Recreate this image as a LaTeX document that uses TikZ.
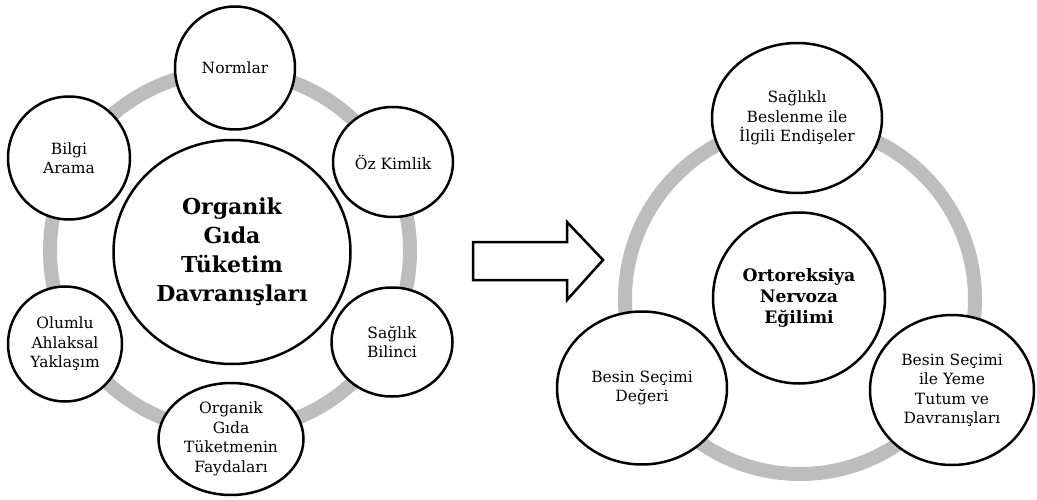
\documentclass[tikz,border=0pt]{standalone}
\usepackage{fontspec}
\setmainfont{DejaVu Serif}
\usetikzlibrary{shapes.geometric}
\definecolor{ringgray}{HTML}{BDBDBD}
\begin{document}
\begin{tikzpicture}[x=1pt,y=-1pt,
  ring/.style={draw=ringgray, line width=14pt},
  bub/.style={ellipse, draw=black, line width=2.5pt, fill=white, inner sep=0pt, align=center, text=black},
  sm/.style={font=\fontsize{15.5}{19.5}\selectfont},
  bigl/.style={font=\bfseries\fontsize{22}{29}\selectfont},
  bigr/.style={font=\bfseries\fontsize{17.2}{21}\selectfont},
  blockarrow/.style={draw=black, line width=2.5pt, fill=white, line join=miter}]
\useasboundingbox (0,0) rectangle (1037,500);
% rings
\draw[ring] (230,251) circle[radius=180pt];
\draw[ring] (800,299) circle[radius=175pt];
% left group
\node[bub, bigl, minimum width=237pt, minimum height=224pt] (ogtd) at (232,252) {Organik\\Gıda\\Tüketim\\Davranışları};
\node[bub, sm, minimum width=120pt, minimum height=123pt] (norm) at (235,68) {Normlar};
\node[bub, sm, minimum width=120pt, minimum height=110pt] (oz) at (393,162) {Öz Kimlik};
\node[bub, sm, minimum width=121pt, minimum height=109pt] (saglik) at (392,342) {Sağlık\\Bilinci};
\node[bub, sm, minimum width=145pt, minimum height=112pt] (fayda) at (231,439) {Organik\\Gıda\\Tüketmenin\\Faydaları};
\node[bub, sm, minimum width=114pt, minimum height=115pt] (olumlu) at (65,344) {Olumlu\\Ahlaksal\\Yaklaşım};
\node[bub, sm, minimum width=122pt, minimum height=123pt] (bilgi) at (69,158) {Bilgi\\Arama};
% arrow
\draw[blockarrow] (473,242) -- (567,242) -- (567,222) -- (603,260) -- (567,300) -- (567,280) -- (473,280) -- cycle;
% right group
\node[bub, bigr, minimum width=172pt, minimum height=171pt] (orto) at (799,298) {Ortoreksiya\\Nervoza\\Eğilimi};
\node[bub, sm, minimum width=170pt, minimum height=150pt] (endise) at (797,118) {Sağlıklı\\Beslenme ile\\İlgili Endişeler};
\node[bub, sm, minimum width=170pt, minimum height=153pt] (deger) at (642,388) {Besin Seçimi\\Değeri};
\node[bub, sm, minimum width=164pt, minimum height=150pt] (yeme) at (952,390) {Besin Seçimi\\ile Yeme\\Tutum ve\\Davranışları};
\end{tikzpicture}
\end{document}
